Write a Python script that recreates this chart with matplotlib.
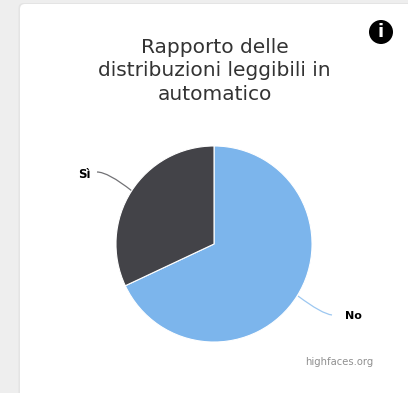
import matplotlib
matplotlib.use("Agg")
import matplotlib.pyplot as plt
from matplotlib.patches import FancyBboxPatch, Circle, PathPatch
from matplotlib.path import Path

categories = ["No", "Sì"]
shares = [68, 32]
colors = ["#7cb5ec", "#434348"]
title_lines = "Rapporto delle\ndistribuzioni leggibili in\nautomatico"
credit = "highfaces.org"

W, H = 408, 393
fig = plt.figure(figsize=(W / 100, H / 100), dpi=100, facecolor="#eeeeee")

# Full-figure axes in pixel coordinates for the card and annotations
bg = fig.add_axes([0, 0, 1, 1])
bg.set_xlim(0, W)
bg.set_ylim(H, 0)
bg.axis("off")

# Soft edge around the card, then the card itself
bg.add_patch(FancyBboxPatch((18.5, 3), 420, 420, boxstyle="round,pad=0,rounding_size=5",
                            facecolor="#e4e4e4", edgecolor="none"))
bg.add_patch(FancyBboxPatch((20, 4), 420, 420, boxstyle="round,pad=0,rounding_size=5",
                            facecolor="white", edgecolor="none"))

bg.text(214.5, 71, title_lines, ha="center", va="center", fontsize=14.5,
        color="#333333", family="DejaVu Sans", linespacing=1.31)

# Info badge
bg.add_patch(Circle((381, 32), 12, facecolor="black", edgecolor="none"))
bg.text(381, 32, "i", ha="center", va="center", fontsize=13, color="white",
        family="DejaVu Sans", fontweight="bold")

# Pie chart
cx, cy, r = 214, 244, 98
pie_ax = fig.add_axes([(cx - r - 1) / W, 1 - (cy + r + 1) / H, (2 * r + 2) / W, (2 * r + 2) / H])
pie_ax.pie(shares, colors=colors, startangle=90, counterclock=False, radius=1.0,
           wedgeprops={"edgecolor": "white", "linewidth": 0.8})
pie_ax.set_xlim(-1.01, 1.01)
pie_ax.set_ylim(-1.01, 1.01)


def leader(p0, p1, p2, color):
    bg.add_patch(PathPatch(Path([p0, p1, p2], [Path.MOVETO, Path.CURVE3, Path.CURVE3]),
                           facecolor="none", edgecolor=color, linewidth=0.9, alpha=0.75))


leader((97, 172), (108, 172), (132, 191), colors[1])
leader((298, 296), (322, 314), (332, 315), colors[0])

bg.text(84.5, 174, categories[1], ha="center", va="center", fontsize=8.4,
        fontweight="bold", color="black", family="DejaVu Sans")
bg.text(353, 316, categories[0], ha="center", va="center", fontsize=8,
        fontweight="bold", color="black", family="DejaVu Sans")
bg.text(339, 362, credit, ha="center", va="center", fontsize=7.2,
        color="#909090", family="DejaVu Sans")

fig.savefig("out.png", dpi=100, facecolor=fig.get_facecolor())
